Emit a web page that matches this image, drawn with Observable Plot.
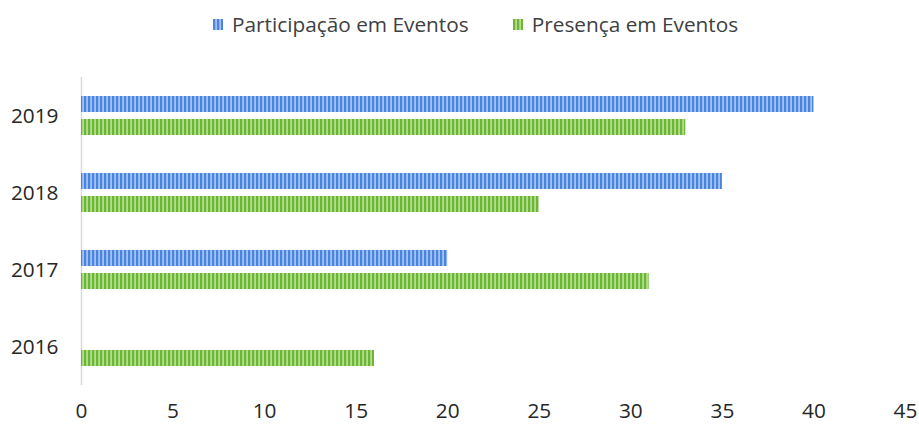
<!DOCTYPE html>
<html>
<head>
<meta charset="utf-8">
<script src="https://cdn.jsdelivr.net/npm/d3@7"></script>
<script src="https://cdn.jsdelivr.net/npm/@observablehq/plot@0.6"></script>
<style>
  html, body { margin: 0; padding: 0; background: #fff; }
  body { width: 919px; height: 424px; overflow: hidden; font-family: "Open Sans", sans-serif; }
  #legend { height: 48px; display: flex; align-items: center; padding-left: 213px; box-sizing: border-box; font-size: 20.8px; color: #404040; }
  .item { display: flex; align-items: center; }
  .sw { width: 10px; height: 11px; margin-right: 9px; }
</style>
</head>
<body>
<div id="legend"></div>
<div id="chart"></div>
<script>
const years = ["2019", "2018", "2017", "2016"];
const series = ["Participação em Eventos", "Presença em Eventos"];
const participacao = [40, 35, 20, null];
const presenca = [33, 25, 31, 16];
const xTicks = [0, 5, 10, 15, 20, 25, 30, 35, 40, 45];
const patternIds = ["pBlue", "pGreen"];
const stripeColors = [["#4a84dd", "#a3c2f2"], ["#6cb537", "#b4de8e"]];

const rows = [];
years.forEach((y, i) => {
  if (participacao[i] != null) rows.push({year: y, series: series[0], value: participacao[i]});
  if (presenca[i] != null) rows.push({year: y, series: series[1], value: presenca[i]});
});

const chart = Plot.plot({
  width: 919,
  height: 376,
  marginLeft: 81,
  marginRight: 14,
  marginTop: 29,
  marginBottom: 39,
  style: {fontFamily: "'Open Sans', sans-serif", fontSize: "20.8px", color: "#262626", background: "#fff", overflow: "visible"},
  x: {domain: [0, 45], ticks: xTicks, tickSize: 0, tickPadding: 18, label: null, tickFormat: d => String(d)},
  fy: {domain: years, padding: 0, tickSize: 0, tickPadding: 23, label: null, axis: "left"},
  y: {domain: series, axis: null, paddingInner: 0.3, paddingOuter: 0.8},
  marks: [
    Plot.ruleX([0], {stroke: "#d9d9d9", strokeWidth: 1.5}),
    Plot.barX(rows.filter(d => d.series === series[0]), {x: "value", y: "series", fy: "year", fill: "url(#pBlue)"}),
    Plot.barX(rows.filter(d => d.series === series[1]), {x: "value", y: "series", fy: "year", fill: "url(#pGreen)"})
  ]
});

// stripe patterns
const svgNS = "http://www.w3.org/2000/svg";
const defs = document.createElementNS(svgNS, "defs");
patternIds.forEach((id, i) => {
  const p = document.createElementNS(svgNS, "pattern");
  p.setAttribute("id", id);
  p.setAttribute("patternUnits", "userSpaceOnUse");
  p.setAttribute("width", "4");
  p.setAttribute("height", "4");
  const r1 = document.createElementNS(svgNS, "rect");
  r1.setAttribute("width", "4"); r1.setAttribute("height", "4"); r1.setAttribute("fill", stripeColors[i][1]);
  const r2 = document.createElementNS(svgNS, "rect");
  r2.setAttribute("width", "2.2"); r2.setAttribute("height", "4"); r2.setAttribute("fill", stripeColors[i][0]);
  p.appendChild(r1); p.appendChild(r2);
  defs.appendChild(p);
});
chart.insertBefore(defs, chart.firstChild);
document.getElementById("chart").appendChild(chart);

// legend
const legend = document.getElementById("legend");
series.forEach((s, i) => {
  const item = document.createElement("div");
  item.className = "item";
  if (i > 0) item.style.marginLeft = "44px";
  item.innerHTML = `<svg class="sw" width="10" height="11"><rect width="10" height="11" fill="url(#${patternIds[i]})"/></svg><span>${s}</span>`;
  legend.appendChild(item);
});
</script>
</body>
</html>
